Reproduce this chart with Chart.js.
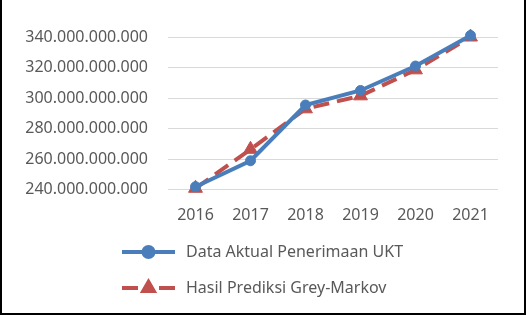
<!DOCTYPE html>
<html>
<head>
<meta charset="utf-8">
<script src="https://cdn.jsdelivr.net/npm/chart.js@4"></script>
<style>
  body { margin: 0; background: #fff; }
  #wrap {
    width: 522px; height: 313px;
    border-left: 2px solid #000; border-right: 2px solid #000; border-bottom: 2px solid #000;
    background: #fff;
  }
</style>
</head>
<body>
<div id="wrap"><canvas id="chart" width="522" height="313"></canvas></div>
<script>
const years = ['2016', '2017', '2018', '2019', '2020', '2021'];
const aktual = [242e9, 259e9, 295.5e9, 305e9, 321e9, 341e9];
const prediksi = [241e9, 266.5e9, 293e9, 301.5e9, 318.5e9, 340e9];
const yTicks = [240e9, 260e9, 280e9, 300e9, 320e9, 340e9];

const FONT = '"Noto Sans", sans-serif';
const TEXT = '#595959';

// thousands separated by dots, like the Indonesian Excel format
function fmt(v) {
  return String(Math.round(v)).replace(/\B(?=(\d{3})+(?!\d))/g, '.');
}

// stacked legend under the axis, each sample = line + marker
const stackedLegend = {
  id: 'stackedLegend',
  afterDraw(chart) {
    const ctx = chart.ctx;
    const rows = [252, 288];
    chart.data.datasets.forEach((ds, i) => {
      const y = rows[i];
      ctx.save();
      ctx.strokeStyle = ds.borderColor;
      ctx.lineWidth = ds.borderWidth;
      ctx.lineCap = 'butt';
      ctx.beginPath();
      if (ds.borderDash) {
        ctx.moveTo(120, y); ctx.lineTo(136, y);
        ctx.moveTo(157, y); ctx.lineTo(173, y);
      } else {
        ctx.moveTo(120, y); ctx.lineTo(173, y);
      }
      ctx.stroke();
      ctx.fillStyle = ds.pointBackgroundColor;
      ctx.strokeStyle = ds.pointBorderColor;
      Chart.helpers.drawPoint(ctx, {
        pointStyle: ds.pointStyle,
        radius: ds.pointStyle === 'triangle' ? 6 : ds.pointRadius,
        borderWidth: 1,
        rotation: 0
      }, 146.5, y);
      ctx.fillStyle = TEXT;
      ctx.font = '16px ' + FONT;
      ctx.textBaseline = 'middle';
      ctx.textAlign = 'left';
      ctx.fillText(ds.label, 184, y);
      ctx.restore();
    });
  }
};

new Chart(document.getElementById('chart'), {
  type: 'line',
  data: {
    labels: years,
    datasets: [
      {
        label: 'Data Aktual Penerimaan UKT',
        data: aktual,
        borderColor: '#4a7ebb',
        backgroundColor: '#4a7ebb',
        borderWidth: 4,
        pointStyle: 'circle',
        pointRadius: 5,
        pointBackgroundColor: '#4a7ebb',
        pointBorderColor: '#4a7ebb',
        pointBorderWidth: 1,
        tension: 0,
        clip: false
      },
      {
        label: 'Hasil Prediksi Grey-Markov',
        data: prediksi,
        borderColor: '#c0504d',
        backgroundColor: '#c0504d',
        borderWidth: 4,
        borderDash: [16, 8],
        pointStyle: 'triangle',
        pointRadius: 8,
        pointBackgroundColor: '#c0504d',
        pointBorderColor: '#c0504d',
        pointBorderWidth: 1,
        tension: 0,
        clip: false
      }
    ]
  },
  options: {
    responsive: false,
    animation: false,
    layout: { padding: { top: 37, right: 26, bottom: 72, left: 0 } },
    plugins: {
      legend: { display: false },
      tooltip: { enabled: false }
    },
    scales: {
      x: {
        offset: true,
        grid: { display: false, drawTicks: false },
        border: { display: false },
        ticks: { color: TEXT, font: { family: FONT, size: 16 }, padding: 16 }
      },
      y: {
        min: 240e9,
        max: 340e9,
        afterBuildTicks(scale) { scale.ticks = yTicks.map(v => ({ value: v })); },
        afterFit(scale) { scale.width = 166; },
        grid: { color: '#d9d9d9', lineWidth: 1, drawTicks: false },
        border: { display: false },
        ticks: {
          color: TEXT,
          font: { family: FONT, size: 16 },
          padding: 20,
          callback: v => fmt(v)
        }
      }
    }
  },
  plugins: [stackedLegend]
});
</script>
</body>
</html>
